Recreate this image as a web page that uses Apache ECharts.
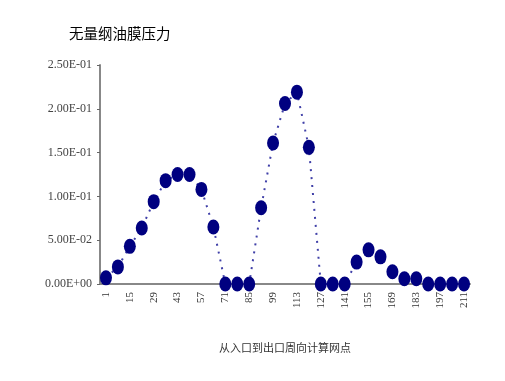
<!DOCTYPE html>
<html><head><meta charset="utf-8">
<script src="https://cdn.jsdelivr.net/npm/echarts@6/dist/echarts.min.js"></script>
<style>html,body{margin:0;padding:0;background:#fff}#c{width:505px;height:381px}</style>
</head><body><div id="c"></div>
<script>
var categories = [1,8,15,22,29,36,43,50,57,64,71,78,85,92,99,106,113,120,127,134,141,148,155,162,169,176,183,190,197,204,211];
var pressure = [0.007,0.0195,0.043,0.064,0.094,0.118,0.125,0.125,0.108,0.065,0,0,0,0.087,0.161,0.206,0.219,0.156,0,0,0,0.025,0.039,0.031,0.014,0.006,0.006,0,0,0,0];
var yTickLabels = ['0.00E+00','5.00E-02','1.00E-01','1.50E-01','2.00E-01','2.50E-01'];
var chart = echarts.init(document.getElementById('c'));
chart.setOption({
  animation:false,
  backgroundColor:'#fff',
  title:{text:'无量纲油膜压力',left:64,top:21,textStyle:{fontSize:14.5,fontWeight:'normal',color:'#000',fontFamily:'Noto Sans CJK SC'}},
  grid:{left:100,right:35,top:65,bottom:97},
  xAxis:{type:'category',data:categories.map(String),boundaryGap:true,
    name:'从入口到出口周向计算网点',nameLocation:'middle',nameGap:58,
    nameTextStyle:{fontSize:11,color:'#333',fontFamily:'Noto Sans CJK SC'},
    axisLine:{lineStyle:{color:'#888',width:2}},
    axisTick:{inside:true,length:4,alignWithLabel:true,interval:0,lineStyle:{color:'#666'}},
    axisLabel:{interval:1,rotate:90,fontSize:11,color:'#333',fontFamily:'Liberation Serif',margin:8},
    splitLine:{show:false}},
  yAxis:{type:'value',min:0,max:0.25,interval:0.05,
    axisLine:{show:true,lineStyle:{color:'#888',width:2}},
    axisTick:{show:true,length:3,lineStyle:{color:'#666'}},
    axisLabel:{fontSize:12,color:'#444',fontFamily:'Liberation Serif',margin:8,
      formatter:function(v){return yTickLabels[Math.round(v/0.05)];}},
    splitLine:{show:false}},
  series:[{type:'line',data:pressure,symbol:'circle',symbolSize:[12,15],showAllSymbol:true,
    itemStyle:{color:'#000080'},
    lineStyle:{color:'#4040a8',width:2,type:[2,6]}}]
});
</script></body></html>
